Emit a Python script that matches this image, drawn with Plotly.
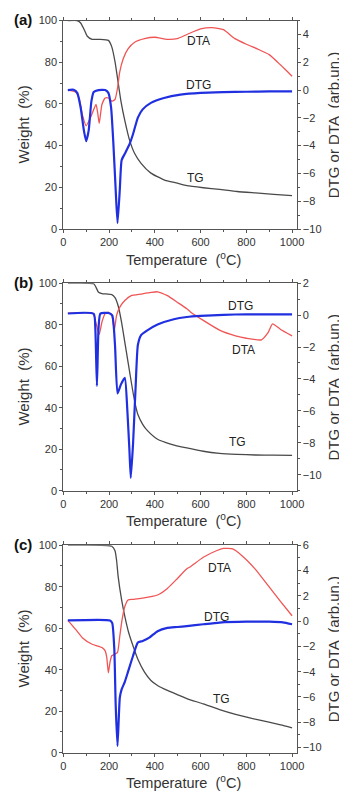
import plotly.graph_objects as go

# ---------------- data ----------------
# Panel (a)
a_tg_T = [20, 60, 75, 90, 105, 126, 160, 197, 212, 226, 237, 252, 269, 290, 312, 340, 383, 440, 498, 540, 612, 683, 760, 840, 920, 1000]
a_tg_W = [100, 100, 99, 96, 92.5, 91, 91, 90.5, 87.4, 80.3, 72.4, 61.4, 52, 42.5, 36.2, 31.5, 26.8, 23.6, 22, 20.8, 19.8, 19, 18, 17.3, 16.6, 16]
a_dtg_T = [20, 45, 61, 76, 90, 100, 111, 123, 133, 154, 183, 197, 209, 219, 229, 237, 247, 255, 269, 290, 305, 326, 347, 383, 440, 512, 600, 700, 800, 900, 1000]
a_dtg_V = [0, 0.02, -0.2, -1.27, -2.9, -3.68, -2.9, -0.8, -0.14, 0, 0, -0.2, -1.27, -3.87, -7.17, -9.58, -7.17, -5.05, -4.58, -3.87, -3.16, -1.98, -1.39, -0.92, -0.57, -0.33, -0.2, -0.15, -0.12, -0.1, -0.1]
a_dta_T = [20, 54, 69, 83, 100, 119, 143, 150, 157, 163, 169, 183, 197, 212, 226, 237, 247, 262, 283, 312, 355, 400, 455, 498, 540, 600, 650, 700, 750, 800, 850, 900, 950, 1000]
a_dta_V = [0, -0.14, -0.57, -1.75, -2.57, -1.98, -1.04, -1.6, -2.4, -1.7, -1.04, -0.57, -0.57, -0.8, -0.68, 0.14, 1.32, 2.26, 2.97, 3.44, 3.7, 3.8, 3.65, 3.7, 4.0, 4.4, 4.5, 4.35, 3.7, 3.3, 2.95, 2.55, 1.8, 1.0]

# Panel (b)
b_tg_T = [20, 133, 143, 154, 169, 212, 226, 240, 255, 269, 283, 297, 312, 326, 347, 369, 412, 469, 540, 612, 683, 760, 840, 920, 1000]
b_tg_W = [100, 99.7, 98, 95.6, 95, 94.5, 93, 89, 81, 71.5, 62, 52.5, 43, 36.7, 32, 28.8, 24.8, 22.5, 20.6, 19, 18, 17.5, 17.2, 17.1, 17]
b_dtg_T = [20, 133, 140, 147, 154, 162, 197, 214, 226, 237, 252, 269, 280, 289, 295, 305, 316, 326, 340, 369, 412, 483, 540, 600, 700, 800, 900, 1000]
b_dtg_V = [0.1, 0.08, -0.84, -4.44, -0.84, 0.09, 0.13, -0.02, -1.87, -4.91, -4.34, -3.93, -5.98, -8.45, -10.2, -8.04, -4.54, -1.87, -1.25, -0.94, -0.59, -0.26, -0.12, -0.05, 0.02, 0.05, 0.05, 0.05]
b_dta_T = [20, 130, 140, 150, 157, 169, 183, 197, 212, 218, 223, 233, 247, 269, 297, 340, 383, 412, 455, 498, 540, 556, 612, 683, 753, 800, 866, 895, 915, 950, 1000]
b_dta_V = [0.13, 0.1, -0.33, -0.9, -1.21, -0.43, 0.09, 0.19, -0.02, -0.5, -0.94, -0.02, 0.5, 0.91, 1.22, 1.32, 1.42, 1.46, 1.22, 0.81, 0.4, 0.2, -0.33, -0.94, -1.3, -1.45, -1.55, -1.1, -0.55, -0.9, -1.3]

# Panel (c)
c_tg_T = [20, 212, 226, 233, 240, 255, 269, 286, 305, 326, 355, 383, 412, 455, 498, 540, 612, 683, 753, 824, 894, 950, 1000]
c_tg_W = [100, 99.5, 97.3, 92.6, 84.7, 73.6, 65.7, 57.8, 51.4, 45, 38.8, 34.8, 32.4, 30, 28, 26.1, 23.5, 20.8, 18.5, 16.5, 14.8, 13.4, 12]
c_dtg_T = [20, 204, 214, 223, 229, 237, 247, 255, 269, 283, 305, 326, 347, 376, 412, 455, 498, 540, 612, 683, 800, 900, 960, 1000]
c_dtg_V = [0.05, 0.05, -0.16, -2.2, -6.6, -9.87, -6.06, -5.4, -4.8, -4.0, -2.74, -1.7, -1.57, -1.31, -0.8, -0.54, -0.47, -0.4, -0.25, -0.12, -0.05, -0.05, -0.1, -0.25]
c_dta_T = [20, 54, 83, 126, 169, 183, 190, 197, 204, 212, 226, 237, 247, 257, 269, 283, 305, 340, 383, 412, 455, 498, 540, 556, 612, 669, 700, 740, 781, 838, 894, 950, 1000]
c_dta_V = [0.06, -0.66, -1.31, -1.83, -2.09, -2.35, -2.87, -4.09, -3.26, -2.74, -2.61, -2.48, -1.18, 0.11, 1.15, 1.67, 1.72, 1.8, 1.93, 2.06, 2.58, 3.35, 4.13, 4.3, 5.04, 5.56, 5.74, 5.7, 5.17, 4.13, 2.84, 1.54, 0.42]

panel_letters = ["(a)", "(b)", "(c)"]
right_ranges = [[-10, 5], [-11, 2], [-10.4, 6]]
# series label positions (T, value) : DTA, DTG (right axis), TG (left axis)
dta_label_pos = [(591, 3.55), (788, -2.2), (683, 4.18)]
dtg_label_pos = [(591, 0.4), (774, 0.55), (669, 0.35)]
tg_label_pos = [(577, 24.5), (760, 23.5), (690, 26)]

x_title = "Temperature  (<sup>o</sup>C)"
yl_title = "Weight  (%)"
yr_title = "DTG or DTA  (arb.un.)"

# ---------------- layout geometry (pixels) ----------------
W_PX, H_PX = 347, 795
X_LEFT, X_RIGHT = 54, 295
PANEL_TOPS = [6.7, 273.3, 539.3]
PANEL_BOTS = [218.3, 484.0, 750.0]

def px_x(p):
    return p / W_PX

def px_y(p):
    return 1 - p / H_PX

FONT = "Liberation Sans, Arial, sans-serif"
AXC = "#555555"
TXT = "#333333"
TG_C = "#4a4a4a"
DTA_C = "#f05555"
DTG_C = "#2030e0"

data = [
    (a_tg_T, a_tg_W, a_dtg_T, a_dtg_V, a_dta_T, a_dta_V),
    (b_tg_T, b_tg_W, b_dtg_T, b_dtg_V, b_dta_T, b_dta_V),
    (c_tg_T, c_tg_W, c_dtg_T, c_dtg_V, c_dta_T, c_dta_V),
]

fig = go.Figure()
annotations = []
layout_axes = {}

common_tick = dict(ticks="outside", ticklen=3, tickwidth=1, tickcolor=AXC,
                   showline=True, linecolor=AXC, linewidth=1,
                   showgrid=False, zeroline=False,
                   tickfont=dict(family=FONT, size=11, color=TXT))

for i, (tgT, tgW, dtgT, dtgV, dtaT, dtaV) in enumerate(data):
    xn = "x" if i == 0 else f"x{i+1}"
    yl = "y" if i == 0 else f"y{2*i+1}"
    yr = f"y{2*i+2}"
    line_kw = dict(shape="spline", smoothing=0.5)
    fig.add_trace(go.Scatter(x=tgT, y=tgW, xaxis=xn, yaxis=yl, mode="lines",
                             line=dict(color=TG_C, width=1.3, **line_kw), hoverinfo="skip"))
    fig.add_trace(go.Scatter(x=dtaT, y=dtaV, xaxis=xn, yaxis=yr, mode="lines",
                             line=dict(color=DTA_C, width=1.3, **line_kw), hoverinfo="skip"))
    fig.add_trace(go.Scatter(x=dtgT, y=dtgV, xaxis=xn, yaxis=yr, mode="lines",
                             line=dict(color=DTG_C, width=2.2, **line_kw), hoverinfo="skip"))

    top, bot = PANEL_TOPS[i], PANEL_BOTS[i]
    dom_y = [px_y(bot), px_y(top)]
    dom_x = [px_x(X_LEFT), px_x(X_RIGHT)]
    xkey = "xaxis" if i == 0 else f"xaxis{i+1}"
    ylkey = "yaxis" if i == 0 else f"yaxis{2*i+1}"
    yrkey = f"yaxis{2*i+2}"
    layout_axes[xkey] = dict(domain=dom_x, anchor=yl, range=[0, 1020], tick0=0, dtick=200,
                             mirror="ticks",
                             minor=dict(ticks="outside", ticklen=2, dtick=100, tickcolor=AXC),
                             **common_tick)
    layout_axes[ylkey] = dict(domain=dom_y, anchor=xn, range=[0, 100], tick0=0, dtick=20,
                              minor=dict(ticks="outside", ticklen=2, dtick=10, tickcolor=AXC),
                              **common_tick)
    layout_axes[yrkey] = dict(domain=dom_y, anchor=xn, overlaying=yl, side="right",
                              range=right_ranges[i], tick0=0, dtick=2,
                              minor=dict(ticks="outside", ticklen=2, dtick=1, tickcolor=AXC),
                              **common_tick)

    # panel letter
    annotations.append(dict(text=f"<b>{panel_letters[i]}</b>", x=px_x(1), y=px_y(top - 1),
                            xref="paper", yref="paper", xanchor="left", yanchor="middle",
                            showarrow=False, font=dict(family=FONT, size=15, color="#111")))
    # axis titles
    annotations.append(dict(text=x_title, x=px_x(178), y=px_y(bot + 30),
                            xref="paper", yref="paper", xanchor="center", yanchor="middle",
                            showarrow=False, font=dict(family=FONT, size=14.5, color=TXT)))
    annotations.append(dict(text=yl_title, x=px_x(13), y=px_y((top + bot) / 2),
                            xref="paper", yref="paper", xanchor="center", yanchor="middle",
                            textangle=-90, showarrow=False, font=dict(family=FONT, size=15, color=TXT)))
    annotations.append(dict(text=yr_title, x=px_x(333), y=px_y((top + bot) / 2),
                            xref="paper", yref="paper", xanchor="center", yanchor="middle",
                            textangle=-90, showarrow=False, font=dict(family=FONT, size=15, color=TXT)))
    # series labels
    for (tx, ty), lab, yref in ((dta_label_pos[i], "DTA", yr), (dtg_label_pos[i], "DTG", yr),
                                (tg_label_pos[i], "TG", yl)):
        annotations.append(dict(text=lab, x=tx, y=ty, xref=xn, yref=yref,
                                xanchor="center", yanchor="middle", showarrow=False,
                                font=dict(family=FONT, size=12, color="#222")))

fig.update_layout(width=W_PX, height=H_PX, autosize=False,
                  margin=dict(l=0, r=0, t=0, b=0),
                  paper_bgcolor="white", plot_bgcolor="white",
                  showlegend=False, annotations=annotations, **layout_axes)

fig.write_html("out.html")
